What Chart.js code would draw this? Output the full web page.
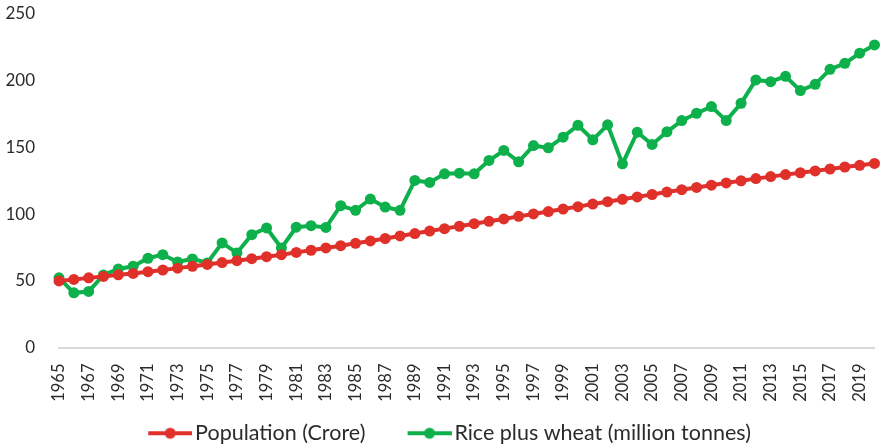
<!DOCTYPE html>
<html>
<head>
<meta charset="utf-8">
<script src="https://cdn.jsdelivr.net/npm/chart.js@4.4.0/dist/chart.umd.min.js"></script>
<style>
html,body{margin:0;padding:0;background:#fff;}
#wrap{width:880px;height:445px;position:relative;}
</style>
</head>
<body>
<div id="wrap"><canvas id="c"></canvas></div>
<script>
const years = [];
for (let y = 1965; y <= 2020; y++) years.push(String(y));

const population = [49.9,51.0,52.2,53.3,54.5,55.5,56.8,58.1,59.5,60.9,62.3,63.7,65.1,66.6,68.1,69.6,71.3,72.9,74.6,76.3,78.1,79.9,81.7,83.6,85.4,87.3,89.1,90.9,92.8,94.6,96.4,98.3,100.1,101.9,103.8,105.6,107.5,109.3,111.1,112.9,114.7,116.5,118.3,120.0,121.7,123.4,125.0,126.6,128.1,129.6,131.0,132.4,133.8,135.3,136.6,138.0];

const riceWheat = [52.2,41.0,42.0,54.4,58.9,60.9,66.9,69.6,64.1,66.4,63.4,78.4,70.9,84.6,89.6,74.6,90.2,91.3,90.0,106.3,102.8,111.3,105.3,102.8,125.2,123.7,130.2,130.7,130.2,140.2,147.7,139.2,151.4,149.7,157.7,166.6,155.7,166.9,137.7,161.4,152.2,161.7,170.1,175.6,180.6,170.1,183.1,200.6,199.3,203.3,192.6,197.3,208.5,213.0,220.6,226.8];

const seriesNames = ['Population (Crore)', 'Rice plus wheat (million tonnes)'];
const yTicks = [0, 50, 100, 150, 200, 250];
const RED = '#E0302A', GREEN = '#0DB04B';
const TEXT = '#2b2b2b';

const LEG_FONT = 21.5;
const LEG_PAD = 19;
const B = 59.25;
function legendImg(color) {
  const c = document.createElement('canvas');
  const w = Math.round(B + 15.5), h = 14;
  c.width = w; c.height = h;
  const g = c.getContext('2d');
  const x1 = w - 44, x2 = w;
  g.strokeStyle = color; g.lineWidth = 4; g.lineCap = 'butt';
  g.beginPath(); g.moveTo(x1, h/2); g.lineTo(x2, h/2); g.stroke();
  g.fillStyle = color;
  g.beginPath(); g.arc((x1 + x2)/2, h/2, 5.5, 0, Math.PI*2); g.fill();
  return c;
}

const font = "Lato, 'Open Sans', sans-serif";
new Chart(document.getElementById('c'), {
  type: 'line',
  data: {
    labels: years,
    datasets: [
      { label: seriesNames[0], data: population, borderColor: RED, backgroundColor: RED,
        borderWidth: 4, pointRadius: 5.5, pointBackgroundColor: RED, pointBorderWidth: 0,
        pointStyle: 'circle', tension: 0, clip: false, legendImg: legendImg(RED) },
      { label: seriesNames[1], data: riceWheat, borderColor: GREEN, backgroundColor: GREEN,
        borderWidth: 4, pointRadius: 5.5, pointBackgroundColor: GREEN, pointBorderWidth: 0,
        pointStyle: 'circle', tension: 0, clip: false, legendImg: legendImg(GREEN) }
    ]
  },
  options: {
    responsive: true,
    maintainAspectRatio: false,
    animation: false,
    layout: { padding: { top: 14, right: 4, left: 0, bottom: -9 } },
    scales: {
      x: {
        offset: false,
        grid: { display: false, drawTicks: false },
        border: { display: true, color: '#D9D9D9', width: 2 },
        ticks: {
          autoSkip: false, maxRotation: 90, minRotation: 90, padding: 16,
          color: TEXT, font: { family: font, size: 16.5 },
          callback: function(v, i) { return i % 2 === 0 ? this.getLabelForValue(v) : ''; }
        },
        afterFit: function(s) { s.paddingLeft = 0; s.paddingRight = 0; s.height = 56; }
      },
      y: {
        min: 0, max: 250,
        afterBuildTicks: function(s) { s.ticks = yTicks.map(v => ({ value: v })); },
        grid: { display: false, drawTicks: false },
        border: { display: false },
        ticks: { padding: 24, color: TEXT, font: { family: font, size: 17 } },
        afterFit: function(s) { s.width = 59; s.paddingTop = 0; s.paddingBottom = 0; }
      }
    },
    plugins: {
      tooltip: { enabled: false },
      legend: {
        position: 'bottom',
        labels: {
          usePointStyle: true,
          pointStyleWidth: B,
          boxHeight: 14,
          padding: LEG_PAD,
          color: TEXT,
          font: { family: font, size: LEG_FONT },
          generateLabels: function(chart) {
            return chart.data.datasets.map((ds, i) => ({
              text: ds.label, fillStyle: ds.borderColor, strokeStyle: ds.borderColor,
              lineWidth: 0, pointStyle: ds.legendImg, hidden: false, datasetIndex: i,
              fontColor: TEXT
            }));
          }
        }
      }
    }
  }
});
</script>
</body>
</html>
